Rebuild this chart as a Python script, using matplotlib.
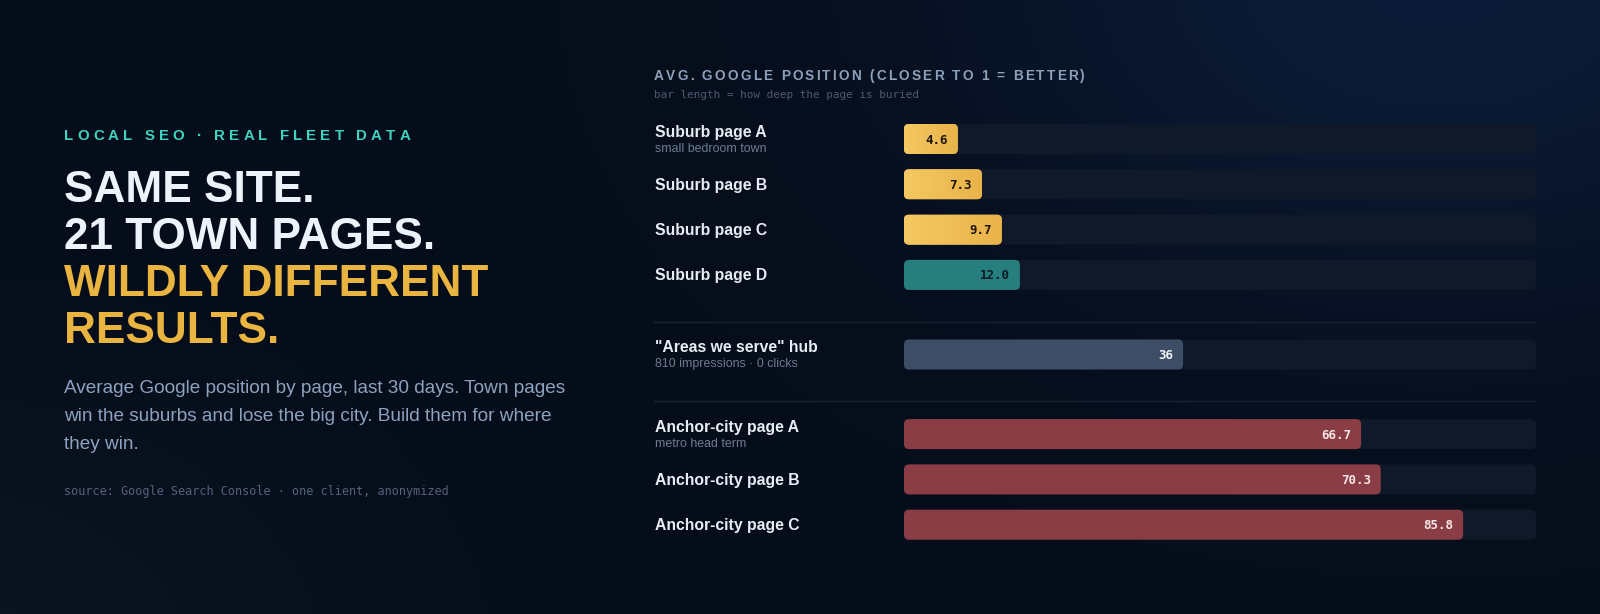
import numpy as np
import matplotlib
matplotlib.use('Agg')
import matplotlib.pyplot as plt
from matplotlib.patches import FancyBboxPatch
from matplotlib.font_manager import FontProperties, findfont
from matplotlib.ft2font import FT2Font, LoadFlags

# ===================== DATOS =====================
pages = ["Suburb page A", "Suburb page B", "Suburb page C", "Suburb page D",
         '"Areas we serve" hub',
         "Anchor-city page A", "Anchor-city page B", "Anchor-city page C"]
notes = ["small bedroom town", "", "", "",
         "810 impressions \u00b7 0 clicks",
         "metro head term", "", ""]
avg_position = [4.6, 7.3, 9.7, 12.0, 36, 66.7, 70.3, 85.8]
value_labels = ["4.6", "7.3", "9.7", "12.0", "36", "66.7", "70.3", "85.8"]
kinds = ["win", "win", "win", "edge", "hub", "lose", "lose", "lose"]
groups = [0, 0, 0, 0, 1, 2, 2, 2]

kicker = "LOCAL SEO \u00b7 REAL FLEET DATA"
headline_white = ["SAME SITE.", "21 TOWN PAGES."]
headline_gold = ["WILDLY DIFFERENT", "RESULTS."]
blurb = ["Average Google position by page, last 30 days. Town pages",
         "win the suburbs and lose the big city. Build them for where",
         "they win."]
source = "source: Google Search Console \u00b7 one client, anonymized"
chart_title = "AVG. GOOGLE POSITION (CLOSER TO 1 = BETTER)"
chart_sub = "bar length = how deep the page is buried"

# ===================== ESTILO =====================
W, H = 1600, 614
BG = np.array([6, 13, 26]) / 255
SANS = "Liberation Sans"
MONO = "DejaVu Sans Mono"
TRACK = "#101929"
BAR_COLORS = {"win": ("#f5c862", "#e9b34a"), "edge": "#267f7c",
              "hub": "#3d4d66", "lose": "#8a3d45"}
VAL_COLORS = {"win": "#1c1608", "edge": "#0b1a24", "hub": "#f2f5fa",
              "lose": "#f7e6e6"}

BAR_X0, BAR_X1 = 904, 1536
BAR_H = 30
ROW0, PITCH, GAP = 139, 45.3, 34.3


def power_fwd(x):
    return np.clip(x, 0, None) ** 0.8


def power_inv(x):
    return np.clip(x, 0, None) ** 1.25


def advances(text, family, weight, size_pt, dpi=100):
    path = findfont(FontProperties(family=family, weight=weight))
    font = FT2Font(path)
    font.set_size(size_pt, dpi)
    out = []
    for ch in text:
        g = font.load_char(ord(ch), flags=LoadFlags.NO_HINTING)
        out.append(g.linearHoriAdvance / 65536)
    return out


def tracked_text(ax, x, y, text, width, family, weight, size, color):
    adv = advances(text, family, weight, size)
    extra = (width - sum(adv)) / (len(text) - 1)
    for ch, a in zip(text, adv):
        if ch != " ":
            ax.text(x, y, ch, fontsize=size, family=family, weight=weight,
                    color=color, va="baseline", ha="left")
        x += a + extra


fig = plt.figure(figsize=(W / 100, H / 100), dpi=100)
fig.patch.set_facecolor(BG)

# fondo en coordenadas de pixel
bg = fig.add_axes([0, 0, 1, 1])
bg.set_axis_off()
yy, xx = np.mgrid[0:H, 0:W]
glow_tr = np.exp(-(((xx - 1440) / 480) ** 2 + ((yy + 30) / 330) ** 2))
glow_bl = np.exp(-(((xx + 60) / 380) ** 2 + ((yy - 680) / 280) ** 2))
img = (BG[None, None, :]
       + glow_tr[..., None] * (np.array([12, 28, 56]) / 255 - BG)
       + glow_bl[..., None] * (np.array([15, 24, 38]) / 255 - BG) * 0.7)
bg.imshow(np.clip(img, 0, 1), extent=[0, W, H, 0], aspect="auto",
          interpolation="bilinear", zorder=0)

# ----- columna izquierda -----
tracked_text(bg, 64, 140, kicker, 346, SANS, "bold", 10.8, "#3fd3c1")
for i, line in enumerate(headline_white + headline_gold):
    color = "#eef3fb" if i < 2 else "#e9b43f"
    bg.text(64, 201.7 + i * 47.2, line, fontsize=31.8, family=SANS,
            weight="bold", color=color, va="baseline")
for i, line in enumerate(blurb):
    bg.text(64, 393 + i * 28, line, fontsize=13.7, family=SANS,
            color="#8da2bf", va="baseline")
bg.text(64, 495, source, fontsize=8.5, family=MONO, color="#52637b",
        va="baseline")

# ----- panel derecho -----
tracked_text(bg, 654, 80, chart_title, 431, SANS, "bold", 9.8, "#8ea1bb")
bg.text(654, 98.5, chart_sub, fontsize=7.9, family=MONO, color="#4b5b72",
        va="baseline")

# eje de barras con escala propia (potencia) y posicion en pixeles
ax = fig.add_axes([BAR_X0 / W, 0, (BAR_X1 - BAR_X0) / W, 1])
ax.set_xscale("function", functions=(power_fwd, power_inv))
ax.set_xlim(0, 100)
ax.set_ylim(H, 0)
ax.set_axis_off()
ax.patch.set_alpha(0)

to_px = ax.transData
from_px = bg.transData.inverted()

row_y = [ROW0 + i * PITCH + g * GAP for i, g in enumerate(groups)]

for g in sorted(set(groups))[1:]:
    first = groups.index(g)
    bg.plot([654, BAR_X1], [row_y[first] - 33] * 2, color="#182233",
            lw=1, zorder=1)

for name, note, val, lab, kind, cy in zip(pages, notes, avg_position,
                                          value_labels, kinds, row_y):
    # etiquetas
    if note:
        bg.text(655, cy - 2, name, fontsize=11.3, family=SANS, weight="bold",
                color="#e8edf5", va="baseline")
        bg.text(655, cy + 12.5, note, fontsize=8.9, family=SANS,
                color="#6b7c94", va="baseline")
    else:
        bg.text(655, cy + 5.5, name, fontsize=11.3, family=SANS,
                weight="bold", color="#e8edf5", va="baseline")

    # pista
    bg.add_patch(FancyBboxPatch((BAR_X0, cy - BAR_H / 2), BAR_X1 - BAR_X0,
                                BAR_H, boxstyle="round,pad=0,rounding_size=5",
                                fc=TRACK, ec="none", zorder=2))
    # barra: largo por la escala del eje
    x_end = from_px.transform(to_px.transform((val, cy)))[0]
    x_start = from_px.transform(to_px.transform((0, cy)))[0]
    colors = BAR_COLORS[kind]
    solid = colors if isinstance(colors, str) else colors[0]
    bar = FancyBboxPatch((x_start, cy - BAR_H / 2), x_end - x_start, BAR_H,
                         boxstyle="round,pad=0,rounding_size=5",
                         fc=solid, ec="none", zorder=3)
    bg.add_patch(bar)
    if not isinstance(colors, str):
        c0 = np.array(matplotlib.colors.to_rgb(colors[0]))
        c1 = np.array(matplotlib.colors.to_rgb(colors[1]))
        t = np.linspace(0, 1, 64)[None, :, None]
        grad = c0 + (c1 - c0) * t
        im = bg.imshow(grad, extent=[x_start, x_end, cy + BAR_H / 2,
                                     cy - BAR_H / 2],
                       aspect="auto", interpolation="bilinear", zorder=3.5)
        im.set_clip_path(bar)
    bg.text(x_end - 10, cy + 4.5, lab, fontsize=9, family=MONO,
            weight="bold", color=VAL_COLORS[kind], ha="right",
            va="baseline", zorder=4)

bg.set_xlim(0, W)
bg.set_ylim(H, 0)

fig.savefig("out.png", dpi=100, facecolor=fig.get_facecolor())
